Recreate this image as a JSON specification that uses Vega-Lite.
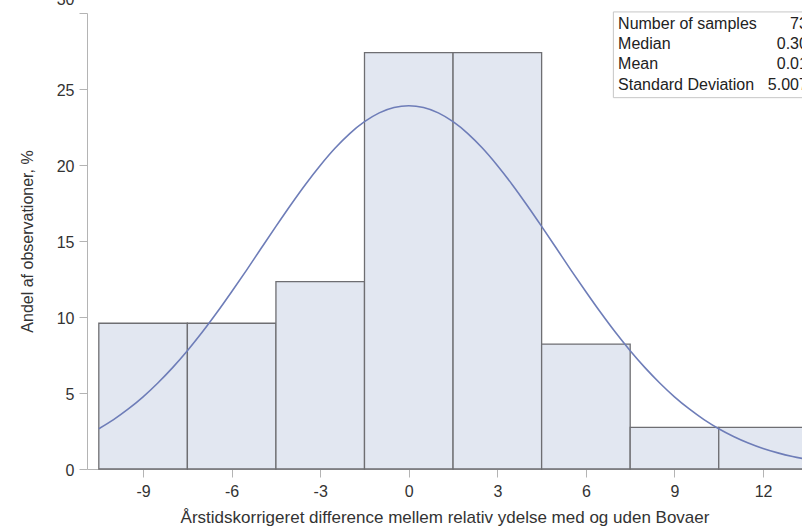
{
  "$schema": "https://vega.github.io/schema/vega-lite/v6.json",
  "width": 715,
  "height": 456,
  "autosize": "none",
  "padding": {"left": 87, "top": 13, "right": 0, "bottom": 63},
  "background": "white",
  "config": {
    "view": {"stroke": null},
    "font": "Liberation Sans",
    "axis": {
      "labelFont": "Liberation Sans",
      "titleFont": "Liberation Sans",
      "labelFontSize": 16,
      "titleFontSize": 17,
      "titleFontWeight": "normal",
      "labelColor": "#333333",
      "titleColor": "#333333",
      "domainColor": "#b4b4b4",
      "tickColor": "#b4b4b4",
      "tickSize": 8,
      "grid": false
    }
  },
  "datasets": {
    "bins": [
      {"bin_start": -10.5, "bin_end": -7.5, "pct": 9.589},
      {"bin_start": -7.5, "bin_end": -4.5, "pct": 9.589},
      {"bin_start": -4.5, "bin_end": -1.5, "pct": 12.329},
      {"bin_start": -1.5, "bin_end": 1.5, "pct": 27.397},
      {"bin_start": 1.5, "bin_end": 4.5, "pct": 27.397},
      {"bin_start": 4.5, "bin_end": 7.5, "pct": 8.219},
      {"bin_start": 7.5, "bin_end": 10.5, "pct": 2.740},
      {"bin_start": 10.5, "bin_end": 13.5, "pct": 2.740}
    ],
    "curve": [
      {"x": -10.5, "y": 2.65}, {"x": -10, "y": 3.25}, {"x": -9.5, "y": 3.95},
      {"x": -9, "y": 4.75}, {"x": -8.5, "y": 5.66}, {"x": -8, "y": 6.67}, {"x": -7.5, "y": 7.78},
      {"x": -7, "y": 8.99}, {"x": -6.5, "y": 10.29}, {"x": -6, "y": 11.66}, {"x": -5.5, "y": 13.07},
      {"x": -5, "y": 14.52}, {"x": -4.5, "y": 15.96}, {"x": -4, "y": 17.37}, {"x": -3.5, "y": 18.72},
      {"x": -3, "y": 19.97}, {"x": -2.5, "y": 21.10}, {"x": -2, "y": 22.07}, {"x": -1.5, "y": 22.85},
      {"x": -1, "y": 23.43}, {"x": -0.5, "y": 23.78}, {"x": 0, "y": 23.90}, {"x": 0.5, "y": 23.78},
      {"x": 1, "y": 23.43}, {"x": 1.5, "y": 22.85}, {"x": 2, "y": 22.07}, {"x": 2.5, "y": 21.10},
      {"x": 3, "y": 19.97}, {"x": 3.5, "y": 18.72}, {"x": 4, "y": 17.37}, {"x": 4.5, "y": 15.96},
      {"x": 5, "y": 14.52}, {"x": 5.5, "y": 13.07}, {"x": 6, "y": 11.66}, {"x": 6.5, "y": 10.29},
      {"x": 7, "y": 8.99}, {"x": 7.5, "y": 7.78}, {"x": 8, "y": 6.67}, {"x": 8.5, "y": 5.66},
      {"x": 9, "y": 4.75}, {"x": 9.5, "y": 3.95}, {"x": 10, "y": 3.25}, {"x": 10.5, "y": 2.65},
      {"x": 11, "y": 2.14}, {"x": 11.5, "y": 1.71}, {"x": 12, "y": 1.35}, {"x": 12.5, "y": 1.06},
      {"x": 13, "y": 0.82}, {"x": 13.5, "y": 0.63}
    ],
    "stats": [
      {"stat": "Number of samples", "value": "73", "row": 0},
      {"stat": "Median", "value": "0.30", "row": 1},
      {"stat": "Mean", "value": "0.01", "row": 2},
      {"stat": "Standard Deviation", "value": "5.007", "row": 3}
    ]
  },
  "layer": [
    {
      "data": {"name": "bins"},
      "mark": {"type": "rect", "fill": "#e2e7f1", "stroke": "#6e6e72", "strokeWidth": 1.3},
      "encoding": {
        "x": {
          "field": "bin_start", "type": "quantitative",
          "scale": {"domain": [-10.9, 13.32], "nice": false, "zero": false},
          "axis": {
            "values": [-9, -6, -3, 0, 3, 6, 9, 12],
            "labelExpr": "replace(datum.label, '−', '-')",
            "title": "Årstidskorrigeret difference mellem relativ ydelse med og uden Bovaer",
            "labelPadding": 6,
            "titlePadding": 10
          }
        },
        "x2": {"field": "bin_end"},
        "y": {
          "field": "pct", "type": "quantitative",
          "scale": {"domain": [0, 30], "nice": false},
          "axis": {
            "values": [0, 5, 10, 15, 20, 25, 30],
            "title": "Andel af observationer, %",
            "titleFontSize": 16,
            "labelPadding": 5,
            "titlePadding": 21,
            "labelOffset": {"condition": {"test": "datum.value == 30", "value": -14}, "value": 1}
          }
        },
        "y2": {"datum": 0}
      }
    },
    {
      "data": {"name": "curve"},
      "mark": {"type": "line", "color": "#6e7db8", "strokeWidth": 1.6, "interpolate": "monotone", "clip": true},
      "encoding": {
        "x": {"field": "x", "type": "quantitative"},
        "y": {"field": "y", "type": "quantitative"}
      }
    },
    {
      "data": {"values": [{}]},
      "mark": {"type": "rect", "fill": "white", "stroke": "#c6c6c6", "strokeWidth": 1},
      "encoding": {
        "x": {"datum": 6.93},
        "x2": {"datum": 14.5},
        "y": {"datum": 30.07},
        "y2": {"datum": 24.43}
      }
    },
    {
      "data": {"name": "stats"},
      "mark": {"type": "text", "align": "left", "baseline": "middle", "fontSize": 16, "color": "#222222", "font": "Liberation Sans"},
      "encoding": {
        "x": {"datum": 7.09},
        "y": {"datum": 29.3},
        "yOffset": {"field": "row", "type": "quantitative", "scale": {"domain": [0, 3], "range": [0, 61]}},
        "text": {"field": "stat"}
      }
    },
    {
      "data": {"name": "stats"},
      "mark": {"type": "text", "align": "right", "baseline": "middle", "fontSize": 16, "color": "#222222", "font": "Liberation Sans"},
      "encoding": {
        "x": {"datum": 13.52},
        "y": {"datum": 29.3},
        "yOffset": {"field": "row", "type": "quantitative", "scale": {"domain": [0, 3], "range": [0, 61]}},
        "text": {"field": "value"}
      }
    }
  ]
}
